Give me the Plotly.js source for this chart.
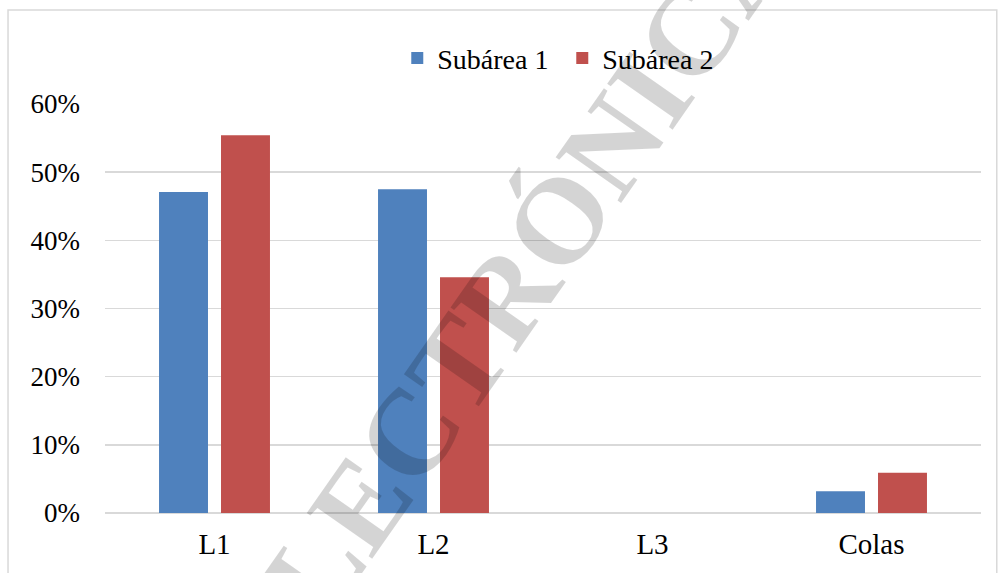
<!DOCTYPE html>
<html>
<head>
<meta charset="utf-8">
<script src="https://cdn.plot.ly/plotly-3.0.1.min.js"></script>
<style>html,body{margin:0;padding:0;background:#fff;}#chart{width:998px;height:573px;}</style>
</head>
<body>
<div id="chart"></div>
<script>
const categories = ["L1", "L2", "L3", "Colas"];
const seriesNames = ["Subárea 1", "Subárea 2"];
const subarea1 = [0.471, 0.475, 0, 0.032];
const subarea2 = [0.554, 0.346, 0, 0.059];
const yTicks = [0, 0.1, 0.2, 0.3, 0.4, 0.5, 0.6];
const watermark = "ELECTRÓNICA";

const FONT = "Liberation Serif";

const traces = [
  {type: "bar", name: seriesNames[0], x: categories, y: subarea1, marker: {color: "#4f81bd"}},
  {type: "bar", name: seriesNames[1], x: categories, y: subarea2, marker: {color: "#c0504d"}}
];

const layout = {
  width: 998, height: 573,
  margin: {l: 105, r: 17, t: 104, b: 60},
  paper_bgcolor: "#ffffff", plot_bgcolor: "#ffffff",
  barmode: "group", bargap: 0.434, bargroupgap: 0.21,
  font: {family: FONT, size: 27, color: "#000000"},
  showlegend: true,
  legend: {orientation: "h", x: 0.522, xanchor: "center", y: 1.112, yanchor: "middle",
           entrywidth: 120, entrywidthmode: "pixels",
           font: {family: FONT, size: 28, color: "#000"}, bgcolor: "rgba(0,0,0,0)"},
  xaxis: {type: "category", showgrid: false, zeroline: false, showline: false, ticks: "",
          tickfont: {family: FONT, size: 29, color: "#000"}, ticklabelstandoff: 11},
  yaxis: {range: [0, 0.6], tickvals: yTicks, tickformat: ".0%", showgrid: true,
          gridcolor: "#d9d9d9", gridwidth: 1.5, zeroline: true, zerolinecolor: "#d9d9d9",
          zerolinewidth: 1.5, showline: false, ticks: "",
          tickfont: {family: FONT, size: 27, color: "#000"}, ticklabelstandoff: 24},
  shapes: [{type: "rect", xref: "paper", yref: "paper", x0: -0.1107, x1: 1.018, y0: -0.2, y1: 1.2298,
            line: {color: "#d9d9d9", width: 1.5}, fillcolor: "rgba(0,0,0,0)", layer: "below"}],
  annotations: [{xref: "paper", yref: "paper", x: 0.455, y: 0.525, xanchor: "center", yanchor: "middle",
                 text: "<b>" + watermark + "</b>", showarrow: false, textangle: -55,
                 font: {family: FONT, size: 122, color: "rgba(0,0,0,0.17)"}}]
};

Plotly.newPlot("chart", traces, layout, {displayModeBar: false, staticPlot: true});
</script>
</body>
</html>
